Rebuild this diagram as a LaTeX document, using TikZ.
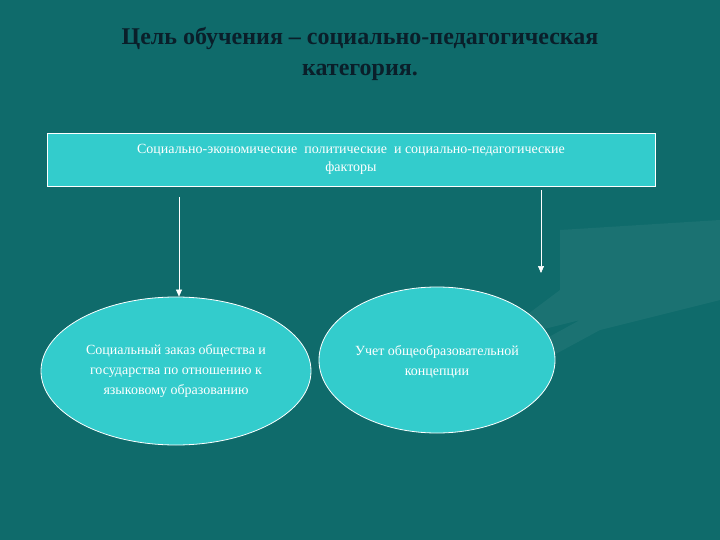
\documentclass[tikz,border=0pt]{standalone}
\usepackage{fontspec}
\setmainfont{Liberation Serif}
\usetikzlibrary{shapes.geometric,arrows.meta}
\definecolor{bg}{HTML}{0F6B6B}
\definecolor{fillc}{HTML}{33CCCC}
\definecolor{titlec}{HTML}{0A1F2A}
\tikzset{
  boxst/.style={draw=white, line width=0.8pt, fill=fillc, text=white, align=center, font=\fontsize{14}{18}\selectfont},
  ellst/.style={ellipse, draw=white, line width=0.8pt, fill=fillc, text=white, align=center, font=\fontsize{14}{20}\selectfont, inner sep=0pt},
  arr/.style={draw=white, line width=0.6pt, -{Triangle[width=6pt,length=7pt]}}
}
\begin{document}
\begin{tikzpicture}[x=1pt,y=-1pt]
\useasboundingbox (0,0) rectangle (720,540);
\fill[bg] (0,0) rectangle (720,540);
\fill[white,opacity=0.05] (560,230) -- (720,220) -- (720,300) -- (600,330) -- (480,395) -- (470,380) -- (580,320) -- (500,340) -- (520,320) -- (560,290) -- cycle;
\node[text=titlec, align=center, font=\fontsize{24}{31}\selectfont\bfseries] (title) at (360,54) {Цель обучения – социально-педагогическая\\категория.};
\node[boxst, minimum width=608pt, minimum height=53pt, inner sep=0pt] (top) at (351,159.5) {Социально-экономические\ \ политические\ \ и социально-педагогические\\факторы};
\node[ellst, minimum width=270pt, minimum height=148pt] (e1) at (176,371) {Социальный заказ общества и\\государства по отношению к\\языковому образованию};
\node[ellst, minimum width=236pt, minimum height=146pt, text depth=0pt] (e2) at (437,360) {Учет общеобразовательной\\концепции};
\coordinate (a1) at (179,197);
\coordinate (a2) at (541,190);
\coordinate (b2) at (541,273);
\draw[arr] (a1) -- (a1 |- e1.north);
\draw[arr] (a2) -- (b2);
\end{tikzpicture}
\end{document}
